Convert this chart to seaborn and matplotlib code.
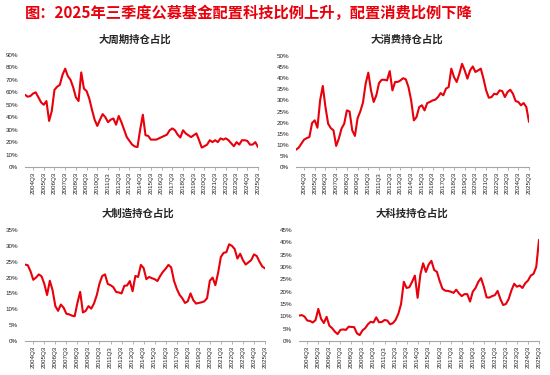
import numpy as np
import pandas as pd
import seaborn as sns
import matplotlib.pyplot as plt

# quarterly labels, 2003Q4 .. 2025Q3
quarters = [f'{y}Q{q}' for y in range(2003, 2026) for q in range(1, 5)]
quarters = quarters[quarters.index('2003Q4'):quarters.index('2025Q3') + 1]

# holdings share (%)
cycle = [58, 56.5, 57, 59, 60, 56, 52, 50, 53, 37,
         45, 62, 64.5, 66, 74, 79, 73, 70, 64, 56,
         53, 76, 63, 61, 55, 46, 38, 33, 38, 42.5,
         40, 36, 38, 39, 34, 41, 36, 30, 24, 21,
         18, 16.5, 16, 30, 42, 25.5, 25, 22, 22, 22,
         23, 24, 25, 26, 29.5, 31, 29.5, 26, 23.7, 29.5,
         27, 25.5, 24, 25.5, 27, 21.5, 15.6, 16.7, 18, 21.5,
         20, 21.5, 20, 23, 22, 23, 21.5, 19, 16.7, 20,
         18, 21.5, 21.5, 21, 18, 18, 20, 16]

consume = [7.8, 8.7, 10.5, 12.3, 13, 13.5, 19.8, 21, 17.7, 30,
           36.5, 27, 19.5, 17.5, 16.5, 9.5, 12.8, 17.3, 19.5, 25.5,
           25, 16.5, 14, 22, 25, 29, 37.5, 42.5, 34.5, 29.3,
           32.3, 37.8, 39.3, 39.3, 39, 43.2, 34.5, 38.3, 38.3, 39,
           40, 39.5, 36, 30, 21, 22.5, 27, 27.8, 25.5, 28.8,
           29.3, 30, 30.3, 31.5, 33.3, 32.3, 35.3, 36, 44.3, 40.5,
           38.3, 42, 46.5, 43.5, 39.8, 43.5, 45.3, 42.8, 43.5, 44.3,
           39.8, 34.5, 31.2, 31.5, 33, 32.7, 34.5, 34.2, 31.5, 33.8,
           34.8, 33, 29.7, 29.3, 27.8, 28.8, 27, 20.3]

manufacture = [24.1, 23.9, 22, 19.3, 20, 21, 20.4, 18, 14.5, 19,
               16, 11, 9.5, 11.5, 10.5, 8.6, 8.4, 8, 7.8, 12,
               15.5, 9, 9.5, 11, 10.2, 11.8, 14.4, 18.1, 20.5, 21,
               18, 17.6, 17, 15.5, 15.3, 15, 17.4, 17.5, 18.9, 15.7,
               20.5, 20.2, 24, 23, 19.5, 20.2, 19.8, 19.5, 18.9, 20.5,
               21.8, 22.8, 24, 23.2, 19, 16.5, 14.6, 13.5, 12, 12.5,
               15, 12.9, 11.8, 12, 12.2, 12.5, 13.5, 19, 20, 17.6,
               21.5, 26.5, 27.8, 28, 30.5, 30, 29, 26, 27.5, 25.5,
               24.1, 24.8, 25.5, 27.3, 26.8, 25, 23.5, 22.9]

tech = [10.3, 10.5, 9.9, 8.3, 8.1, 7.5, 8.5, 13, 9, 7.3,
        9.8, 6.2, 5.2, 3.8, 2.8, 4.5, 4.7, 4.5, 5.8, 5.7,
        5.6, 3.1, 2.4, 4.3, 5.2, 6.8, 7.8, 7.5, 9.6, 7.6,
        7.7, 8.5, 8.3, 6.8, 7.2, 8.5, 11, 15, 24, 21.5,
        21.8, 24, 26.5, 17.5, 27, 31.5, 28, 31, 32.5, 28.8,
        28, 24.3, 21.2, 20.4, 20.3, 20, 19.5, 20.8, 19.3, 18.2,
        19, 19, 16, 20, 21.5, 24, 25.5, 22, 17.7, 17.6,
        18.2, 18.6, 20.3, 17, 14.6, 15, 17, 20.5, 23.2, 22,
        22.5, 21.5, 23.4, 24.5, 26.5, 27.2, 30, 41]

titles = ['大周期持仓占比', '大消费持仓占比', '大制造持仓占比', '大科技持仓占比']
y_max = [90, 50, 35, 45]
y_step = [10, 5, 5, 5]

df = pd.DataFrame({'quarter': quarters, '大周期': cycle, '大消费': consume,
                   '大制造': manufacture, '大科技': tech})
df['pos'] = np.arange(len(df))

sns.set_theme(style='white')
plt.rcParams['font.family'] = ['Liberation Sans', 'Noto Sans CJK SC', 'DejaVu Sans']

fig = plt.figure(figsize=(5.5, 3.75), dpi=100)

# axes boxes in pixels: left, right, top, bottom (0% line)
boxes = [(25, 258, 55, 167), (296, 529, 56, 167),
         (25, 265, 230, 341), (299, 539, 230, 341)]
title_pos = [(135, 40), (407, 40), (138, 214), (412, 214)]
W, H = 550, 375

red = '#e8000b'
fig.text(25 / W, 1 - 13 / H, '图：2025年三季度公募基金配置科技比例上升，配置消费比例下降',
         color=red, fontsize=11, fontweight='bold',
         family=['Noto Sans CJK SC', 'DejaVu Sans'], ha='left', va='center')

ticks = list(range(quarters.index('2004Q3'), len(quarters), 4))

for i, col in enumerate(['大周期', '大消费', '大制造', '大科技']):
    l, r, t, b = boxes[i]
    ax = fig.add_axes([l / W, 1 - b / H, (r - l) / W, (b - t) / H])
    sns.lineplot(data=df, x='pos', y=col, ax=ax, color=red, linewidth=1.5)
    ax.set_xlim(0, len(quarters) - 1)
    ax.set_ylim(0, y_max[i])
    ax.set_yticks(np.arange(0, y_max[i] + 0.1, y_step[i]))
    ax.set_yticklabels([f'{v:.0f}%' for v in ax.get_yticks()])
    ax.set_xticks(ticks)
    ax.set_xticklabels([quarters[k] for k in ticks], rotation=90)
    ax.set_xlabel('')
    ax.set_ylabel('')
    for s in ['top', 'right', 'left']:
        ax.spines[s].set_visible(False)
    ax.spines['bottom'].set_color('#a6a6a6')
    ax.spines['bottom'].set_linewidth(0.8)
    ax.tick_params(axis='x', bottom=True, direction='out', length=2, width=0.6,
                   color='#a6a6a6', labelsize=4.5, labelcolor='#222222', pad=1.5)
    ax.tick_params(axis='y', left=False, length=0, labelsize=4.5,
                   labelcolor='#222222', pad=5)
    ax.patch.set_alpha(0)
    tx, ty = title_pos[i]
    fig.text(tx / W, 1 - ty / H, titles[i], fontsize=7.5, fontweight='bold',
             family=['Noto Sans CJK SC', 'DejaVu Sans'], ha='center', va='center')

plt.savefig('out.png', dpi=100)
